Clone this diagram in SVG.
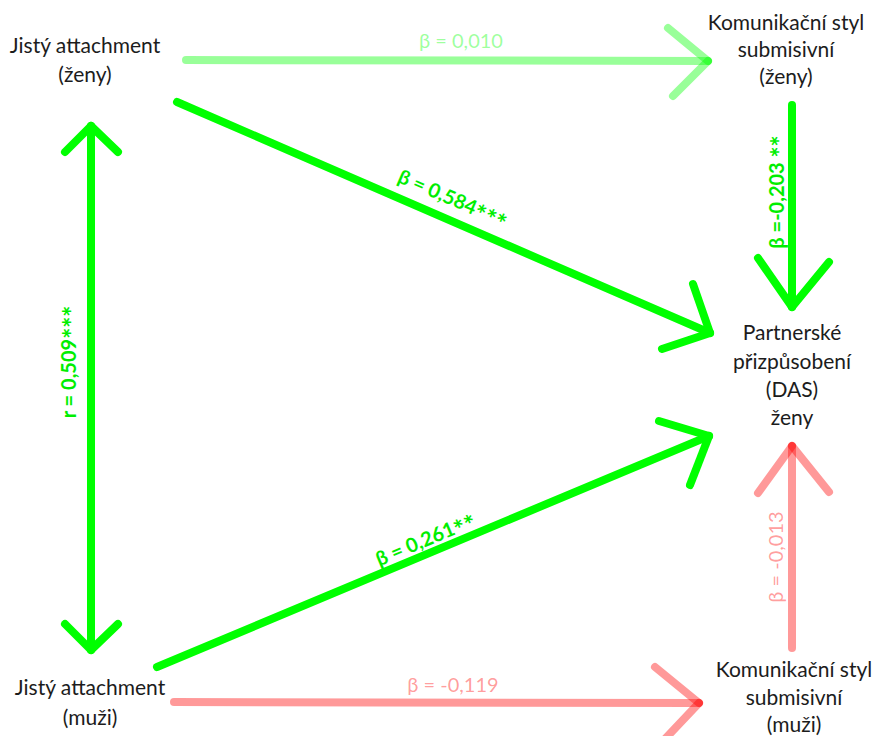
<svg xmlns="http://www.w3.org/2000/svg" width="875" height="736" viewBox="0 0 875 736">
  <style>
    .node text { font-family: Lato, "Open Sans", "Liberation Sans", sans-serif; font-size: 21px; fill: #1c1c1c; text-anchor: middle; }
    .edge line { stroke-width: 8; stroke-linecap: round; fill: none; }
    .strong line { stroke: #00ff00; }
    .weak-pos line { stroke: #00ff00; stroke-opacity: 0.4; }
    .weak-neg line { stroke: #ff0000; stroke-opacity: 0.4; }
    .lbl { font-family: Lato, "Open Sans", "Liberation Sans", sans-serif; font-size: 20px; text-anchor: middle; }
    .lbl-strong { fill: #00ee00; font-weight: bold; }
    .lbl-pos { fill: #00ff00; fill-opacity: 0.4; }
    .lbl-neg { fill: #ff0000; fill-opacity: 0.4; }
    .star { font-size: 26px; }
  </style>

  <rect width="875" height="736" fill="#ffffff"/>

  <g id="connectors">
    <!-- secure attachment (women) -> submissive style (women) -->
    <g id="e-jz-kz" class="edge weak-pos">
      <line x1="186" y1="60" x2="708" y2="61"/>
      <line x1="668" y1="28" x2="708" y2="61"/>
      <line x1="708" y1="61" x2="673" y2="96"/>
    </g>
    <text class="lbl lbl-pos" x="461" y="48">β = 0,010</text>

    <!-- secure attachment (women) -> DAS -->
    <g id="e-jz-das" class="edge strong">
      <line x1="177" y1="102" x2="710" y2="333"/>
      <line x1="693" y1="284" x2="710" y2="333"/>
      <line x1="710" y1="333" x2="662" y2="349"/>
    </g>
    <text class="lbl lbl-strong" transform="translate(450,205) rotate(23.5)">β = 0,584<tspan class="star" dy="6">***</tspan></text>

    <!-- submissive style (women) -> DAS -->
    <g id="e-kz-das" class="edge strong">
      <line x1="792" y1="105" x2="792" y2="307"/>
      <line x1="758" y1="258" x2="792" y2="307"/>
      <line x1="792" y1="307" x2="829" y2="262"/>
    </g>
    <text class="lbl lbl-strong" transform="translate(784,192) rotate(-90)">β =-0,203 <tspan class="star" dy="6">**</tspan></text>

    <!-- correlation between partners' attachment -->
    <g id="e-jz-jm" class="edge strong">
      <line x1="91" y1="126" x2="91" y2="650"/>
      <line x1="65" y1="152" x2="91" y2="126"/>
      <line x1="91" y1="126" x2="118" y2="152"/>
      <line x1="65" y1="624" x2="91" y2="650"/>
      <line x1="91" y1="650" x2="118" y2="624"/>
    </g>
    <text class="lbl lbl-strong" transform="translate(76,362) rotate(-90)">r = 0,509<tspan class="star" dy="6">***</tspan></text>

    <!-- secure attachment (men) -> DAS -->
    <g id="e-jm-das" class="edge strong">
      <line x1="157" y1="667" x2="709" y2="436"/>
      <line x1="659" y1="421" x2="709" y2="436"/>
      <line x1="709" y1="436" x2="690" y2="485"/>
    </g>
    <text class="lbl lbl-strong" transform="translate(428,546) rotate(-22.7)">β = 0,261<tspan class="star" dy="6">**</tspan></text>

    <!-- submissive style (men) -> DAS -->
    <g id="e-km-das" class="edge weak-neg">
      <line x1="792" y1="648" x2="792" y2="446"/>
      <line x1="758" y1="493" x2="792" y2="446"/>
      <line x1="792" y1="446" x2="829" y2="492"/>
    </g>
    <text class="lbl lbl-neg" transform="translate(783,557) rotate(-90)">β = -0,013</text>

    <!-- secure attachment (men) -> submissive style (men) -->
    <g id="e-jm-km" class="edge weak-neg">
      <line x1="174" y1="702" x2="699" y2="703"/>
      <line x1="655" y1="667" x2="699" y2="703"/>
      <line x1="699" y1="703" x2="664" y2="740"/>
    </g>
    <text class="lbl lbl-neg" x="453" y="692">β = -0,119</text>
  </g>

  <g id="n-jista-zeny" class="node">
    <text x="85" y="53">Jistý attachment</text>
    <text x="85" y="82">(ženy)</text>
  </g>

  <g id="n-kom-zeny" class="node">
    <text x="786" y="30">Komunikační styl</text>
    <text x="786" y="57">submisivní</text>
    <text x="786" y="84">(ženy)</text>
  </g>

  <g id="n-das" class="node">
    <text x="792" y="340">Partnerské</text>
    <text x="792" y="369">přizpůsobení</text>
    <text x="792" y="397">(DAS)</text>
    <text x="792" y="425">ženy</text>
  </g>

  <g id="n-jista-muzi" class="node">
    <text x="90" y="695">Jistý attachment</text>
    <text x="90" y="725">(muži)</text>
  </g>

  <g id="n-kom-muzi" class="node">
    <text x="794" y="677">Komunikační styl</text>
    <text x="794" y="705">submisivní</text>
    <text x="794" y="732">(muži)</text>
  </g>
</svg>
